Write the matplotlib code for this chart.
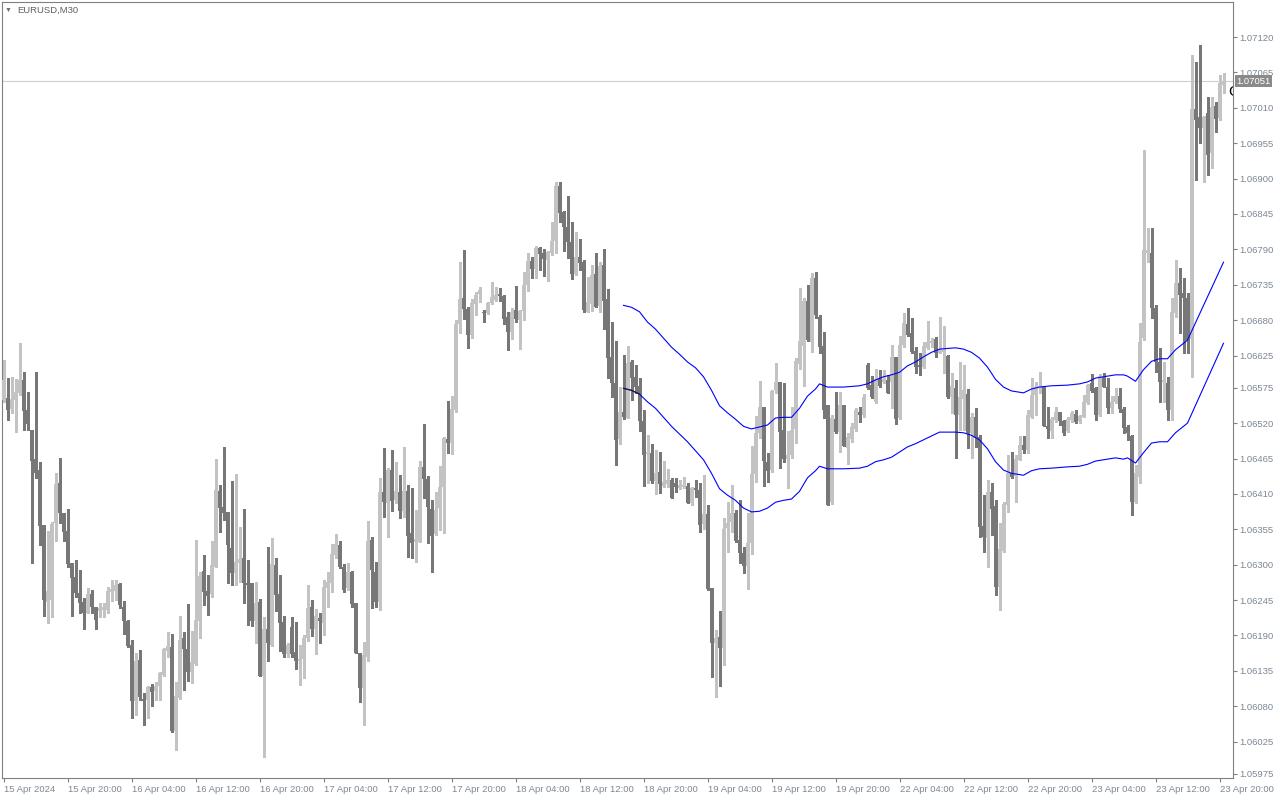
import numpy as np
import matplotlib
matplotlib.use('Agg')
import matplotlib.pyplot as plt

plt.rcParams['font.family'] = ['Liberation Sans', 'DejaVu Sans']

symbol = 'EURUSD,M30'

# M30 candles, 15 Apr 12:00 .. 23 Apr 20:30
opens = [
  1.06556, 1.06559, 1.06542, 1.06556, 1.06567, 1.06587, 1.06540, 1.06509, 1.06464, 1.06447,
  1.06362, 1.06242, 1.06245, 1.06365, 1.06427, 1.06380, 1.06353, 1.06303, 1.06281, 1.06256,
  1.06242, 1.06225, 1.06254, 1.06234, 1.06228, 1.06230, 1.06230, 1.06257, 1.06259, 1.06270,
  1.06234, 1.06212, 1.06175, 1.06088, 1.06152, 1.06091, 1.06090, 1.06110, 1.06104, 1.06112,
  1.06128, 1.06166, 1.06172, 1.06042, 1.06093, 1.06186, 1.06169, 1.06133, 1.06146, 1.06212,
  1.06290, 1.06259, 1.06254, 1.06296, 1.06414, 1.06390, 1.06382, 1.06326, 1.06287, 1.06303,
  1.06310, 1.06272, 1.06272, 1.06212, 1.06242, 1.06127, 1.06200, 1.06175, 1.06299, 1.06254,
  1.06211, 1.06161, 1.06203, 1.06164, 1.06150, 1.06153, 1.06186, 1.06234, 1.06200, 1.06217,
  1.06209, 1.06264, 1.06271, 1.06315, 1.06330, 1.06296, 1.06264, 1.06289, 1.06240, 1.06163,
  1.06108, 1.06157, 1.06339, 1.06289, 1.06242, 1.06413, 1.06396, 1.06447, 1.06400, 1.06413,
  1.06383, 1.06414, 1.06349, 1.06335, 1.06335, 1.06452, 1.06433, 1.06387, 1.06348, 1.06388,
  1.06421, 1.06495, 1.06489, 1.06540, 1.06674, 1.06714, 1.06697, 1.06657, 1.06705, 1.06721,
  1.06693, 1.06691, 1.06707, 1.06711, 1.06721, 1.06718, 1.06685, 1.06662, 1.06696, 1.06680,
  1.06694, 1.06735, 1.06772, 1.06759, 1.06792, 1.06784, 1.06773, 1.06784, 1.06803, 1.06888,
  1.06848, 1.06825, 1.06801, 1.06752, 1.06778, 1.06770, 1.06693, 1.06705, 1.06752, 1.06702,
  1.06766, 1.06713, 1.06623, 1.06582, 1.06495, 1.06537, 1.06528, 1.06615, 1.06592, 1.06578,
  1.06523, 1.06472, 1.06474, 1.06430, 1.06444, 1.06422, 1.06425, 1.06431, 1.06427, 1.06419,
  1.06421, 1.06422, 1.06396, 1.06419, 1.06416, 1.06363, 1.06379, 1.06264, 1.06178, 1.06188,
  1.06170, 1.06357, 1.06366, 1.06380, 1.06338, 1.06318, 1.06298, 1.06334, 1.06441, 1.06505,
  1.06545, 1.06460, 1.06447, 1.06571, 1.06584, 1.06509, 1.06464, 1.06470, 1.06511, 1.06612,
  1.06640, 1.06710, 1.06646, 1.06745, 1.06685, 1.06640, 1.06548, 1.06397, 1.06526, 1.06506,
  1.06548, 1.06481, 1.06495, 1.06511, 1.06537, 1.06533, 1.06610, 1.06579, 1.06553, 1.06590,
  1.06584, 1.06587, 1.06584, 1.06623, 1.06528, 1.06641, 1.06674, 1.06660, 1.06632, 1.06610,
  1.06607, 1.06637, 1.06644, 1.06651, 1.06629, 1.06631, 1.06624, 1.06561, 1.06575, 1.06533,
  1.06557, 1.06565, 1.06505, 1.06530, 1.06498, 1.06360, 1.06341, 1.06413, 1.06391, 1.06265,
  1.06321, 1.06393, 1.06442, 1.06438, 1.06463, 1.06486, 1.06478, 1.06530, 1.06564, 1.06576,
  1.06578, 1.06515, 1.06508, 1.06525, 1.06537, 1.06523, 1.06508, 1.06525, 1.06534, 1.06523,
  1.06530, 1.06551, 1.06582, 1.06575, 1.06533, 1.06592, 1.06576, 1.06543, 1.06553, 1.06562,
  1.06542, 1.06514, 1.06500, 1.06397, 1.06436, 1.06652, 1.06784, 1.06784, 1.06699, 1.06615,
  1.06584, 1.06582, 1.06540, 1.06691, 1.06738, 1.06722, 1.06714, 1.06651, 1.07008, 1.06996,
  1.06979, 1.07002, 1.06940, 1.07013, 1.06994, 1.07045,
]
highs = [
  1.06618, 1.06590, 1.06592, 1.06589, 1.06644, 1.06599, 1.06568, 1.06509, 1.06599, 1.06459,
  1.06362, 1.06353, 1.06366, 1.06442, 1.06466, 1.06380, 1.06387, 1.06303, 1.06307, 1.06292,
  1.06248, 1.06264, 1.06261, 1.06234, 1.06240, 1.06240, 1.06265, 1.06276, 1.06276, 1.06272,
  1.06243, 1.06214, 1.06183, 1.06163, 1.06167, 1.06100, 1.06112, 1.06114, 1.06118, 1.06133,
  1.06170, 1.06195, 1.06192, 1.06118, 1.06220, 1.06195, 1.06239, 1.06197, 1.06338, 1.06289,
  1.06315, 1.06284, 1.06337, 1.06464, 1.06424, 1.06483, 1.06382, 1.06430, 1.06441, 1.06358,
  1.06386, 1.06307, 1.06272, 1.06273, 1.06247, 1.06219, 1.06327, 1.06341, 1.06310, 1.06284,
  1.06220, 1.06178, 1.06219, 1.06211, 1.06175, 1.06191, 1.06268, 1.06245, 1.06231, 1.06225,
  1.06276, 1.06289, 1.06332, 1.06348, 1.06337, 1.06301, 1.06303, 1.06290, 1.06240, 1.06163,
  1.06180, 1.06368, 1.06343, 1.06304, 1.06435, 1.06481, 1.06450, 1.06478, 1.06459, 1.06439,
  1.06483, 1.06424, 1.06419, 1.06385, 1.06461, 1.06519, 1.06438, 1.06400, 1.06413, 1.06453,
  1.06498, 1.06554, 1.06562, 1.06680, 1.06770, 1.06789, 1.06700, 1.06713, 1.06724, 1.06732,
  1.06696, 1.06708, 1.06739, 1.06732, 1.06730, 1.06719, 1.06693, 1.06699, 1.06733, 1.06696,
  1.06755, 1.06784, 1.06778, 1.06795, 1.06794, 1.06791, 1.06787, 1.06833, 1.06895, 1.06895,
  1.06850, 1.06873, 1.06832, 1.06817, 1.06806, 1.06773, 1.06747, 1.06766, 1.06784, 1.06770,
  1.06791, 1.06728, 1.06677, 1.06648, 1.06576, 1.06626, 1.06640, 1.06618, 1.06610, 1.06590,
  1.06540, 1.06501, 1.06488, 1.06478, 1.06475, 1.06461, 1.06449, 1.06435, 1.06435, 1.06432,
  1.06436, 1.06427, 1.06421, 1.06432, 1.06427, 1.06439, 1.06393, 1.06264, 1.06198, 1.06228,
  1.06373, 1.06397, 1.06424, 1.06385, 1.06400, 1.06327, 1.06380, 1.06484, 1.06531, 1.06585,
  1.06545, 1.06474, 1.06572, 1.06613, 1.06584, 1.06582, 1.06508, 1.06545, 1.06621, 1.06730,
  1.06714, 1.06735, 1.06753, 1.06755, 1.06688, 1.06662, 1.06548, 1.06533, 1.06568, 1.06568,
  1.06548, 1.06505, 1.06520, 1.06543, 1.06545, 1.06565, 1.06613, 1.06593, 1.06604, 1.06602,
  1.06602, 1.06595, 1.06641, 1.06623, 1.06655, 1.06691, 1.06699, 1.06683, 1.06638, 1.06629,
  1.06646, 1.06678, 1.06652, 1.06654, 1.06685, 1.06671, 1.06626, 1.06598, 1.06587, 1.06615,
  1.06610, 1.06573, 1.06536, 1.06543, 1.06501, 1.06408, 1.06432, 1.06427, 1.06400, 1.06365,
  1.06397, 1.06470, 1.06475, 1.06470, 1.06500, 1.06500, 1.06540, 1.06590, 1.06584, 1.06599,
  1.06578, 1.06545, 1.06529, 1.06545, 1.06537, 1.06525, 1.06529, 1.06539, 1.06540, 1.06533,
  1.06564, 1.06581, 1.06596, 1.06576, 1.06596, 1.06598, 1.06590, 1.06562, 1.06575, 1.06575,
  1.06545, 1.06517, 1.06501, 1.06455, 1.06675, 1.06944, 1.06823, 1.06823, 1.06703, 1.06637,
  1.06615, 1.06592, 1.06714, 1.06773, 1.06761, 1.06745, 1.06722, 1.07092, 1.07081, 1.07108,
  1.06997, 1.07027, 1.07027, 1.07019, 1.07061, 1.07064,
]
lows = [
  1.06553, 1.06525, 1.06536, 1.06506, 1.06564, 1.06509, 1.06509, 1.06303, 1.06434, 1.06330,
  1.06220, 1.06210, 1.06219, 1.06337, 1.06365, 1.06337, 1.06296, 1.06220, 1.06250, 1.06225,
  1.06200, 1.06225, 1.06225, 1.06200, 1.06219, 1.06219, 1.06225, 1.06243, 1.06245, 1.06233,
  1.06192, 1.06172, 1.06062, 1.06066, 1.06090, 1.06051, 1.06062, 1.06080, 1.06090, 1.06090,
  1.06127, 1.06157, 1.06040, 1.06012, 1.06091, 1.06105, 1.06119, 1.06116, 1.06144, 1.06186,
  1.06237, 1.06222, 1.06250, 1.06296, 1.06351, 1.06369, 1.06271, 1.06268, 1.06268, 1.06273,
  1.06240, 1.06206, 1.06205, 1.06178, 1.06127, 1.06001, 1.06150, 1.06174, 1.06228, 1.06166,
  1.06157, 1.06157, 1.06157, 1.06138, 1.06113, 1.06124, 1.06181, 1.06189, 1.06161, 1.06178,
  1.06191, 1.06234, 1.06258, 1.06310, 1.06295, 1.06257, 1.06261, 1.06234, 1.06163, 1.06087,
  1.06051, 1.06150, 1.06233, 1.06234, 1.06230, 1.06374, 1.06343, 1.06383, 1.06396, 1.06372,
  1.06374, 1.06312, 1.06310, 1.06304, 1.06335, 1.06404, 1.06334, 1.06289, 1.06346, 1.06354,
  1.06349, 1.06474, 1.06472, 1.06537, 1.06660, 1.06682, 1.06637, 1.06652, 1.06688, 1.06708,
  1.06677, 1.06690, 1.06705, 1.06710, 1.06710, 1.06674, 1.06634, 1.06651, 1.06677, 1.06635,
  1.06680, 1.06726, 1.06745, 1.06745, 1.06758, 1.06749, 1.06741, 1.06781, 1.06784, 1.06832,
  1.06787, 1.06777, 1.06744, 1.06750, 1.06758, 1.06693, 1.06693, 1.06694, 1.06700, 1.06693,
  1.06666, 1.06590, 1.06561, 1.06455, 1.06487, 1.06526, 1.06528, 1.06556, 1.06567, 1.06507,
  1.06422, 1.06427, 1.06427, 1.06410, 1.06411, 1.06421, 1.06421, 1.06404, 1.06413, 1.06418,
  1.06419, 1.06396, 1.06393, 1.06405, 1.06351, 1.06355, 1.06261, 1.06125, 1.06094, 1.06111,
  1.06144, 1.06320, 1.06351, 1.06335, 1.06303, 1.06287, 1.06262, 1.06317, 1.06429, 1.06497,
  1.06422, 1.06429, 1.06444, 1.06567, 1.06450, 1.06460, 1.06419, 1.06466, 1.06489, 1.06604,
  1.06578, 1.06648, 1.06630, 1.06683, 1.06629, 1.06528, 1.06393, 1.06394, 1.06505, 1.06475,
  1.06484, 1.06456, 1.06491, 1.06508, 1.06522, 1.06529, 1.06573, 1.06559, 1.06551, 1.06576,
  1.06582, 1.06567, 1.06543, 1.06518, 1.06526, 1.06638, 1.06655, 1.06629, 1.06598, 1.06595,
  1.06605, 1.06635, 1.06638, 1.06623, 1.06629, 1.06598, 1.06559, 1.06536, 1.06466, 1.06509,
  1.06509, 1.06481, 1.06466, 1.06483, 1.06343, 1.06320, 1.06296, 1.06346, 1.06253, 1.06229,
  1.06320, 1.06382, 1.06435, 1.06397, 1.06463, 1.06474, 1.06474, 1.06528, 1.06533, 1.06567,
  1.06515, 1.06497, 1.06497, 1.06522, 1.06517, 1.06501, 1.06506, 1.06522, 1.06520, 1.06520,
  1.06530, 1.06550, 1.06568, 1.06525, 1.06531, 1.06576, 1.06536, 1.06536, 1.06551, 1.06537,
  1.06505, 1.06494, 1.06377, 1.06396, 1.06427, 1.06649, 1.06770, 1.06683, 1.06599, 1.06553,
  1.06553, 1.06525, 1.06525, 1.06685, 1.06660, 1.06629, 1.06629, 1.06592, 1.06898, 1.06955,
  1.06895, 1.06906, 1.06917, 1.06972, 1.06991, 1.07033,
]
closes = [
  1.06587, 1.06540, 1.06557, 1.06568, 1.06587, 1.06539, 1.06519, 1.06461, 1.06442, 1.06360,
  1.06245, 1.06259, 1.06363, 1.06425, 1.06380, 1.06351, 1.06301, 1.06279, 1.06256, 1.06240,
  1.06225, 1.06254, 1.06234, 1.06214, 1.06233, 1.06234, 1.06259, 1.06262, 1.06268, 1.06237,
  1.06212, 1.06174, 1.06088, 1.06150, 1.06094, 1.06088, 1.06110, 1.06102, 1.06112, 1.06132,
  1.06169, 1.06174, 1.06042, 1.06096, 1.06183, 1.06169, 1.06133, 1.06149, 1.06214, 1.06282,
  1.06257, 1.06251, 1.06300, 1.06416, 1.06388, 1.06380, 1.06331, 1.06287, 1.06304, 1.06309,
  1.06272, 1.06268, 1.06212, 1.06240, 1.06127, 1.06200, 1.06178, 1.06301, 1.06253, 1.06209,
  1.06161, 1.06175, 1.06161, 1.06150, 1.06153, 1.06186, 1.06233, 1.06200, 1.06220, 1.06212,
  1.06265, 1.06273, 1.06317, 1.06332, 1.06296, 1.06261, 1.06289, 1.06239, 1.06163, 1.06108,
  1.06160, 1.06337, 1.06292, 1.06242, 1.06413, 1.06397, 1.06447, 1.06399, 1.06414, 1.06383,
  1.06414, 1.06345, 1.06334, 1.06340, 1.06452, 1.06433, 1.06390, 1.06345, 1.06385, 1.06421,
  1.06497, 1.06489, 1.06542, 1.06674, 1.06713, 1.06697, 1.06657, 1.06707, 1.06719, 1.06727,
  1.06691, 1.06707, 1.06716, 1.06719, 1.06718, 1.06682, 1.06662, 1.06693, 1.06682, 1.06694,
  1.06735, 1.06772, 1.06759, 1.06792, 1.06783, 1.06775, 1.06786, 1.06803, 1.06888, 1.06846,
  1.06825, 1.06801, 1.06752, 1.06778, 1.06769, 1.06696, 1.06708, 1.06750, 1.06700, 1.06764,
  1.06710, 1.06621, 1.06582, 1.06494, 1.06537, 1.06530, 1.06613, 1.06590, 1.06576, 1.06523,
  1.06470, 1.06475, 1.06430, 1.06442, 1.06425, 1.06428, 1.06431, 1.06404, 1.06421, 1.06424,
  1.06424, 1.06396, 1.06419, 1.06416, 1.06362, 1.06379, 1.06262, 1.06178, 1.06186, 1.06170,
  1.06355, 1.06365, 1.06380, 1.06337, 1.06318, 1.06298, 1.06334, 1.06441, 1.06505, 1.06545,
  1.06461, 1.06446, 1.06570, 1.06584, 1.06506, 1.06464, 1.06470, 1.06509, 1.06616, 1.06648,
  1.06710, 1.06649, 1.06745, 1.06688, 1.06638, 1.06540, 1.06393, 1.06528, 1.06506, 1.06548,
  1.06484, 1.06498, 1.06514, 1.06540, 1.06533, 1.06561, 1.06574, 1.06561, 1.06588, 1.06578,
  1.06588, 1.06567, 1.06623, 1.06526, 1.06641, 1.06676, 1.06657, 1.06630, 1.06607, 1.06607,
  1.06640, 1.06646, 1.06648, 1.06629, 1.06634, 1.06634, 1.06561, 1.06578, 1.06533, 1.06561,
  1.06571, 1.06505, 1.06530, 1.06497, 1.06358, 1.06343, 1.06413, 1.06386, 1.06265, 1.06324,
  1.06394, 1.06442, 1.06436, 1.06464, 1.06486, 1.06478, 1.06533, 1.06564, 1.06576, 1.06578,
  1.06515, 1.06511, 1.06526, 1.06537, 1.06523, 1.06505, 1.06526, 1.06536, 1.06522, 1.06531,
  1.06553, 1.06579, 1.06570, 1.06533, 1.06593, 1.06576, 1.06543, 1.06553, 1.06562, 1.06542,
  1.06512, 1.06505, 1.06397, 1.06442, 1.06646, 1.06789, 1.06789, 1.06699, 1.06615, 1.06584,
  1.06587, 1.06540, 1.06693, 1.06738, 1.06719, 1.06714, 1.06649, 1.07008, 1.06991, 1.06979,
  1.06996, 1.06937, 1.07011, 1.06993, 1.07049, 1.07051,
]

# envelope indicator (bar index, upper, lower)
band_bars = [155, 157, 159, 161, 163, 165, 167, 169, 171, 173, 175, 177, 179, 181, 183,
             185, 187, 189, 191, 193, 195, 197, 199, 201, 203, 204, 206, 210, 214, 216,
             218, 220, 222, 224, 226, 228, 230, 232, 234, 238, 240, 242, 244, 246, 248,
             250, 252, 255, 257, 259, 262, 266, 269, 271, 273, 275, 278, 280, 281, 283,
             285, 287, 289, 291, 293, 296, 305]
band_upper = [
  1.06703, 1.06700, 1.06693, 1.06677, 1.06666, 1.06652, 1.06638, 1.06627, 1.06615, 1.06606,
  1.06592, 1.06571, 1.06547, 1.06536, 1.06526, 1.06515, 1.06511, 1.06514, 1.06517, 1.06528,
  1.06529, 1.06529, 1.06543, 1.06562, 1.06573, 1.06581, 1.06576, 1.06576, 1.06578, 1.06581,
  1.06587, 1.06592, 1.06595, 1.06599, 1.06609, 1.06615, 1.06623, 1.06630, 1.06635, 1.06637,
  1.06635, 1.06630, 1.06621, 1.06607, 1.06588, 1.06576, 1.06570, 1.06567, 1.06573, 1.06576,
  1.06578, 1.06579, 1.06581, 1.06584, 1.06590, 1.06592, 1.06595, 1.06595, 1.06593, 1.06585,
  1.06603, 1.06616, 1.06620, 1.06620, 1.06634, 1.06649, 1.06770,
]
band_lower = [
  1.06574, 1.06571, 1.06565, 1.06553, 1.06543, 1.06529, 1.06515, 1.06503, 1.06491, 1.06477,
  1.06463, 1.06442, 1.06418, 1.06408, 1.06400, 1.06388, 1.06382, 1.06383, 1.06388, 1.06397,
  1.06400, 1.06402, 1.06414, 1.06435, 1.06446, 1.06453, 1.06449, 1.06449, 1.06450, 1.06453,
  1.06460, 1.06463, 1.06467, 1.06475, 1.06483, 1.06488, 1.06494, 1.06500, 1.06506, 1.06506,
  1.06505, 1.06501, 1.06494, 1.06480, 1.06460, 1.06447, 1.06442, 1.06439, 1.06446, 1.06449,
  1.06450, 1.06452, 1.06453, 1.06456, 1.06461, 1.06463, 1.06466, 1.06464, 1.06466, 1.06458,
  1.06474, 1.06489, 1.06491, 1.06491, 1.06505, 1.06520, 1.06644,
]

price_ticks = [1.07120, 1.07065, 1.07010, 1.06955, 1.06900, 1.06845, 1.06790, 1.06735,
               1.06680, 1.06625, 1.06575, 1.06520, 1.06465, 1.06410, 1.06355, 1.06300,
               1.06245, 1.06190, 1.06135, 1.06080, 1.06025, 1.05975]
time_labels = ['15 Apr 2024', '15 Apr 20:00', '16 Apr 04:00', '16 Apr 12:00', '16 Apr 20:00',
               '17 Apr 04:00', '17 Apr 12:00', '17 Apr 20:00', '18 Apr 04:00', '18 Apr 12:00',
               '18 Apr 20:00', '19 Apr 04:00', '19 Apr 12:00', '19 Apr 20:00', '22 Apr 04:00',
               '22 Apr 12:00', '22 Apr 20:00', '23 Apr 04:00', '23 Apr 12:00', '23 Apr 20:00']

bull_color = '#c3c3c3'
bear_color = '#777777'
frame_color = '#808080'
label_color = '#7b8794'

o = np.array(opens)
h = np.array(highs)
l = np.array(lows)
c = np.array(closes)
x = np.arange(len(o))
colors = np.where(c >= o, bull_color, bear_color)

fig = plt.figure(figsize=(12.8, 8), dpi=100)
ax = fig.add_axes([2 / 1280, 22 / 800, 1231 / 1280, 776 / 800])
ax.set_xlim(-0.375, 307.375)
ax.set_ylim(1.059685, 1.071744)

# current price line
ax.axhline(c[-1], color='#cfcfcf', lw=0.8, zorder=1)

# candles
ax.vlines(x, l, h, colors=colors, lw=0.75, zorder=2, antialiased=False)
body_h = np.maximum(np.abs(c - o), 0.000012)
ax.bar(x, body_h, bottom=np.minimum(o, c), width=0.75, color=colors, lw=0, zorder=3)

# envelope lines
ax.plot(band_bars, band_upper, color='#0000ff', lw=0.8, zorder=4)
ax.plot(band_bars, band_lower, color='#0000ff', lw=0.8, zorder=4)
ax.plot(band_bars[:3], band_lower[:3], color='#202020', lw=0.8, zorder=5)

for s in ax.spines.values():
  s.set_color(frame_color)
  s.set_linewidth(0.8)

ax.yaxis.tick_right()
ax.set_yticks(price_ticks)
ax.set_yticklabels(['%.5f' % p for p in price_ticks])
ax.tick_params(axis='y', direction='out', length=3, width=0.8, color=frame_color,
               labelsize=6.8, labelcolor=label_color, pad=1.5)

ax.set_xticks(np.arange(0, len(o), 16)[:len(time_labels)])
ax.set_xticklabels(time_labels, ha='left')
ax.tick_params(axis='x', direction='out', length=3, width=0.8, color=frame_color,
               labelsize=6.8, labelcolor=label_color, pad=2)

# last price tag
ax.annotate('%.5f' % c[-1], xy=(1, c[-1]), xycoords=('axes fraction', 'data'),
            xytext=(2.5, 0), textcoords='offset points', ha='left', va='center',
            fontsize=6.8, color='white', annotation_clip=False,
            bbox=dict(boxstyle='square,pad=0.15', fc='#8a8a8a', ec='none'))

ax.text(306.1, 1.07035, 'C', fontsize=11, color='black', ha='left', va='center', clip_on=True)

fig.text(5 / 1280, 1 - 10 / 800, '\u25bc', fontsize=5, color='#707070', va='center')
fig.text(17 / 1280, 1 - 10 / 800, symbol, fontsize=6.8, color='#606060', va='center')

fig.savefig('out.png', dpi=100, facecolor='white')
